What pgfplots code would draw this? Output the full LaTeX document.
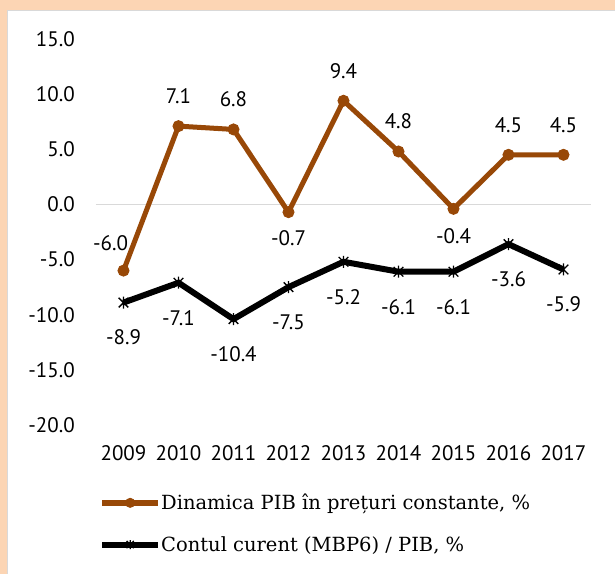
\documentclass[border=0pt]{standalone}
\usepackage{fontspec}
\usepackage{pgfplots}
\usepackage{pgfplotstable}
\pgfplotsset{compat=1.18}
\setmainfont{DejaVu Serif}
\newfontfamily\numfont{PT Sans}
\definecolor{pibcol}{RGB}{152,72,7}
\definecolor{peach}{RGB}{252,213,180}
\definecolor{rulecol}{RGB}{217,217,217}
\newcommand\numsize{\numfont\fontsize{21bp}{25bp}\selectfont}

% steluta ca in Excel: un X cu o bara verticala
\pgfdeclareplotmark{xstar}{%
  \pgfpathmoveto{\pgfqpoint{-0.8\pgfplotmarksize}{-0.8\pgfplotmarksize}}%
  \pgfpathlineto{\pgfqpoint{0.8\pgfplotmarksize}{0.8\pgfplotmarksize}}%
  \pgfpathmoveto{\pgfqpoint{-0.8\pgfplotmarksize}{0.8\pgfplotmarksize}}%
  \pgfpathlineto{\pgfqpoint{0.8\pgfplotmarksize}{-0.8\pgfplotmarksize}}%
  \pgfpathmoveto{\pgfqpoint{0pt}{-\pgfplotmarksize}}%
  \pgfpathlineto{\pgfqpoint{0pt}{\pgfplotmarksize}}%
  \pgfusepathqstroke}

% an, valoare, deplasarea etichetei (dx, dy in bp)
\pgfplotstableread{
an   val   dx   dy
2009 -6.0  -13  27
2010  7.1    0  30
2011  6.8    0  30
2012 -0.7    0 -26
2013  9.4    0  30
2014  4.8    0  30
2015 -0.4    0 -27
2016  4.5    0  30
2017  4.5    0  30
}\gdptab

\pgfplotstableread{
an   val    dx   dy
2009 -8.9    0  -35
2010 -7.1    0  -35
2011 -10.4   0  -35
2012 -7.5    0  -35
2013 -5.2    0  -35
2014 -6.1    0  -35
2015 -6.1    0  -35
2016 -3.6    0  -35
2017 -5.9    0  -35
}\cctab

\begin{document}
\begin{tikzpicture}
\fill[peach] (-96bp,-149bp) rectangle (519bp,425bp);
\fill[white] (-88.5bp,-149bp) rectangle (519bp,414.5bp);
\draw[rulecol, line width=1bp] (-88.5bp,-149bp) -- (-88.5bp,414.5bp) -- (519bp,414.5bp);
\begin{axis}[
    scale only axis,
    width=495bp, height=386bp,
    xmin=2008.5, xmax=2017.5,
    ymin=-20, ymax=15,
    xtick={2009,...,2017},
    ytick={-20,-15,...,15},
    axis line style={draw=none},
    tick style={draw=none},
    clip=false,
    /pgf/number format/assume math mode=true,
    tick label style={font=\numsize, text=black},
    xticklabel style={/pgf/number format/1000 sep=, anchor=north, inner sep=0pt, yshift=-20bp},
    yticklabel style={/pgf/number format/fixed, /pgf/number format/zerofill,
        /pgf/number format/precision=1, anchor=east, inner sep=0pt, xshift=-21bp},
    legend style={draw=none, fill=none, at={(0.006,-0.179)}, anchor=north west,
        font=\fontsize{19.5bp}{23bp}\selectfont, row sep=25bp, column sep=0pt,
        inner sep=0pt, nodes={inner sep=0pt}},
    legend cell align=left,
    legend image code/.code={\draw[mark repeat=2,mark phase=2,#1]
        plot coordinates {(0bp,0bp) (28bp,0bp) (56bp,0bp)};},
    visualization depends on={\thisrow{dx}\as\dx},
    visualization depends on={\thisrow{dy}\as\dy},
    nodes near coords={\pgfmathprintnumber[fixed,zerofill,precision=1]{\pgfplotspointmeta}},
    every node near coord/.append style={anchor=center, inner sep=0pt,
        xshift=\dx bp, yshift=\dy bp, text=black, font=\numsize},
]
\draw[rulecol, line width=1.2bp] (axis cs:2008.5,0) -- (axis cs:2017.5,0);
\addplot[pibcol, line width=5bp, mark=*, mark size=5.5bp,
    mark options={line width=1bp}, legend image post style={line width=5.5bp, mark size=4.5bp}]
    table[x=an, y=val] {\gdptab};
\addlegendentry{Dinamica PIB în prețuri constante, \%}
\addplot[black, line width=6bp, mark=xstar, mark size=6bp,
    mark options={line width=1.3bp}, legend image post style={mark size=4.5bp}]
    table[x=an, y=val] {\cctab};
\addlegendentry{Contul curent (MBP6) / PIB, \%}
\end{axis}
\pgfresetboundingbox
\useasboundingbox (-96bp,-149bp) rectangle (519bp,425bp);
\end{tikzpicture}
\end{document}
